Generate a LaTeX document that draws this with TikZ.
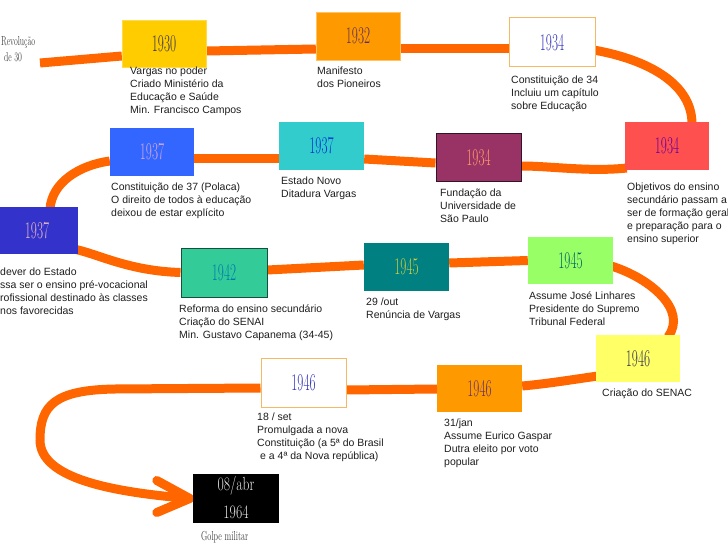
\documentclass[tikz,border=0pt]{standalone}
\usepackage{fontspec}
\newfontfamily\arialfont{Liberation Sans}
\usetikzlibrary{calc,backgrounds}
\definecolor{lineor}{RGB}{255,102,0}
\definecolor{txt}{HTML}{1E1E1E}
\definecolor{c30}{HTML}{FFCC00}
\definecolor{c32}{HTML}{FF9900}
\definecolor{c34b}{HTML}{FF5050}
\definecolor{c34c}{HTML}{993366}
\definecolor{c37a}{HTML}{33CCCC}
\definecolor{c37b}{HTML}{3366FF}
\definecolor{c37c}{HTML}{3333CC}
\definecolor{c42}{HTML}{33CC99}
\definecolor{c45a}{HTML}{008080}
\definecolor{c45b}{HTML}{99FF66}
\definecolor{c46a}{HTML}{FFFF66}
\definecolor{c46b}{HTML}{FF9900}
\definecolor{bord}{HTML}{F5B963}
\newcommand\yrtext[1]{\scalebox{0.55}[1]{\fontsize{24}{24}\selectfont #1}}
\newcommand\condtext[2]{\scalebox{#1}[1]{\fontsize{13}{13}\selectfont #2}}
\tikzset{
  box/.style={rectangle, minimum width=85pt, minimum height=48pt, inner sep=0pt},
  lbl/.style={anchor=north west, align=left, inner sep=0pt, text=txt,
    font=\arialfont\fontsize{10.5}{13}\selectfont},
  conn/.style={draw=lineor, line width=9pt},
}
\begin{document}
\begin{tikzpicture}[x=1pt,y=-1pt]
\useasboundingbox (0,0) rectangle (728,548);
\clip (0,0) rectangle (728,548);
% boxes
\node[box, fill=c30, draw=c30!70!white, minimum width=84pt, minimum height=47pt, text={rgb,255:red,50;green,50;blue,80}] (b30) at (164,43.5) {\yrtext{1930}};
\node[box, fill=c32, draw=c32!60!white, minimum width=84pt, text={rgb,255:red,92;green,46;blue,92}] (b32) at (358,36) {\yrtext{1932}};
\node[box, fill=white, draw=bord, line width=1pt, minimum width=86pt, minimum height=49pt, text={rgb,255:red,51;green,51;blue,187}] (b34a) at (552,42.5) {\yrtext{1934}};
\node[box, fill=c34b, minimum width=84pt, text={rgb,255:red,102;green,0;blue,153}] (b34b) at (667,146) {\yrtext{1934}};
\node[box, fill=c34c, draw={rgb,255:red,50;green,20;blue,40}, line width=1pt, text={rgb,255:red,255;green,153;blue,102}] (b34c) at (478.5,158) {\yrtext{1934}};
\node[box, fill=c37a, text={rgb,255:red,0;green,51;blue,204}] (b37a) at (321.5,146) {\yrtext{1937}};
\node[box, fill=c37b, minimum width=84pt, text={rgb,255:red,216;green,168;blue,224}] (b37b) at (152,152) {\yrtext{1937}};
\node[box, fill=c37c, minimum width=82pt, minimum height=47pt, text={rgb,255:red,232;green,184;blue,192}] (b37c) at (37,230.5) {\yrtext{1937}};
\node[box, fill=c42, draw={rgb,255:red,27;green,77;blue,59}, line width=1pt, minimum width=86pt, minimum height=49pt, text={rgb,255:red,0;green,119;blue,170}] (b42) at (224,272.5) {\yrtext{1942}};
\node[box, fill=c45a, text={rgb,255:red,204;green,204;blue,68}] (b45a) at (406.5,267) {\yrtext{1945}};
\node[box, fill=c45b, minimum height=47pt, text={rgb,255:red,0;green,102;blue,102}] (b45b) at (570.5,260.5) {\yrtext{1945}};
\node[box, fill=c46a, minimum width=84pt, minimum height=47pt, text={rgb,255:red,50;green,50;blue,80}] (b46a) at (638,358.5) {\yrtext{1946}};
\node[box, fill=c46b, minimum height=47pt, text={rgb,255:red,102;green,51;blue,102}] (b46b) at (479.5,388.5) {\yrtext{1946}};
\node[box, fill=white, draw=bord, line width=1pt, minimum height=49pt, text={rgb,255:red,51;green,51;blue,187}] (b46c) at (303.5,382.5) {\yrtext{1946}};
\node[box, fill=black, minimum width=86pt, minimum height=49pt] (b64) at (236,498.5) {};
\node[inner sep=0pt, text={rgb,255:red,230;green,230;blue,230}] (d64a) at (236,486) {\scalebox{0.72}[1]{\fontsize{19}{19}\selectfont 08/abr}};
\node[inner sep=0pt, text={rgb,255:red,230;green,230;blue,230}] (d64b) at (236,512) {\scalebox{0.72}[1]{\fontsize{19}{19}\selectfont 1964}};
% small condensed texts
\node[anchor=west, inner sep=0pt, text={rgb,255:red,60;green,60;blue,60}] (rev1) at (1,42) {\condtext{0.6}{Revolução}};
\node[anchor=west, inner sep=0pt, text={rgb,255:red,60;green,60;blue,60}] (rev2) at (4,57) {\condtext{0.6}{de 30}};
\node[anchor=west, inner sep=0pt, text={rgb,255:red,60;green,60;blue,60}] (golpe) at (201,537) {\condtext{0.63}{Golpe militar}};
% labels
\node[lbl] (l30) at (130,67) {Vargas no poder\\Criado Ministério da\\Educação e Saúde\\Min. Francisco Campos};
\node[lbl] (l32) at (317,67) {Manifesto\\dos Pioneiros};
\node[lbl] (l34a) at (511,76) {Constituição de 34\\Incluiu um capítulo\\sobre Educação};
\node[lbl] (l34b) at (627,183) {Objetivos do ensino\\secundário passam a\\ser de formação geral\\e preparação para o\\ensino superior};
\node[lbl] (l34c) at (440,189) {Fundação da\\Universidade de\\São Paulo};
\node[lbl] (l37a) at (281,177) {Estado Novo\\Ditadura Vargas};
\node[lbl] (l37b) at (111,183) {Constituição de 37 (Polaca)\\O direito de todos à educação\\deixou de estar explícito};
\node[lbl] (l37c) at (0,268) {dever do Estado\\ssa ser o ensino pré-vocacional\\rofissional destinado às classes\\nos favorecidas};
\node[lbl] (l42) at (179,305) {Reforma do ensino secundário\\Criação do SENAI\\Min. Gustavo Capanema (34-45)};
\node[lbl] (l45a) at (366,298) {29 /out\\Renúncia de Vargas};
\node[lbl] (l45b) at (529,292) {Assume José Linhares\\Presidente do Supremo\\Tribunal Federal};
\node[lbl] (l46a) at (602,389) {Criação do SENAC};
\node[lbl] (l46b) at (444,419) {31/jan\\Assume Eurico Gaspar\\Dutra eleito por voto\\popular};
\node[lbl] (l46c) at (257,413) {18 / set\\Promulgada a nova\\Constituição (a 5ª do Brasil\\\hspace*{3pt}e a 4ª da Nova república)};
% connector
\coordinate (s0) at (40,63);
\coordinate (tip) at ($(b64.west)+(-3,0)$);
\begin{scope}[on background layer]
\clip (0,0) rectangle (728,548);
\draw[conn] (s0) -- ($(b30.west)+(0,12.5)$);
\draw[conn] ($(b30.east)+(0,7.5)$) -- ($(b32.west)+(0,13)$);
\draw[conn] ($(b32.east)+(0,13)$) -- ($(b34a.west)+(0,6.5)$);
\draw[conn] ($(b34a.east)+(-2,7.5)$) .. controls (640,58) and (692,80) .. ($(b34b.north)+(25,2)$);
\draw[conn] ($(b34b.west)+(2,22)$) .. controls (590,172) and (550,166) .. ($(b34c.east)+(0,8)$);
\draw[conn] ($(b34c.west)+(0,5)$) -- ($(b37a.east)+(0,13)$);
\draw[conn] ($(b37a.west)+(0,13)$) -- ($(b37b.east)+(0,7)$);
\draw[conn] ($(b37b.west)+(0,9)$) .. controls (80,165) and (52,182) .. ($(b37c.north)+(13,2)$);
\draw[conn] ($(b37c.east)+(-2,19)$) .. controls (100,255) and (130,271) .. ($(b42.west)+(0,0)$);
\draw[conn] ($(b42.east)+(0,-2.5)$) -- ($(b45a.west)+(0,-2)$);
\draw[conn] ($(b45a.east)+(0,-4)$) -- ($(b45b.west)+(0,0)$);
\draw[conn] ($(b45b.east)+(-2,5.5)$) .. controls (650,278) and (688,310) .. ($(b46a.north)+(30,2)$);
\draw[conn] ($(b46a.west)+(2,17.5)$) .. controls (570,380) and (545,384) .. ($(b46b.east)+(0,-2.5)$);
\draw[conn] ($(b46b.west)+(0,0.5)$) -- ($(b46c.east)+(0,7.5)$);
\draw[conn] ($(b46c.west)+(0,5.5)$) -- (115,389) .. controls (55,390) and (40,405) .. (40,440)
   .. controls (40,478) and (110,492) .. (tip);
\draw[conn, line cap=round, line join=round] ($(tip)+(-33,-18)$) -- (tip) -- ($(tip)+(-33,14)$);
\end{scope}
\end{tikzpicture}
\end{document}
